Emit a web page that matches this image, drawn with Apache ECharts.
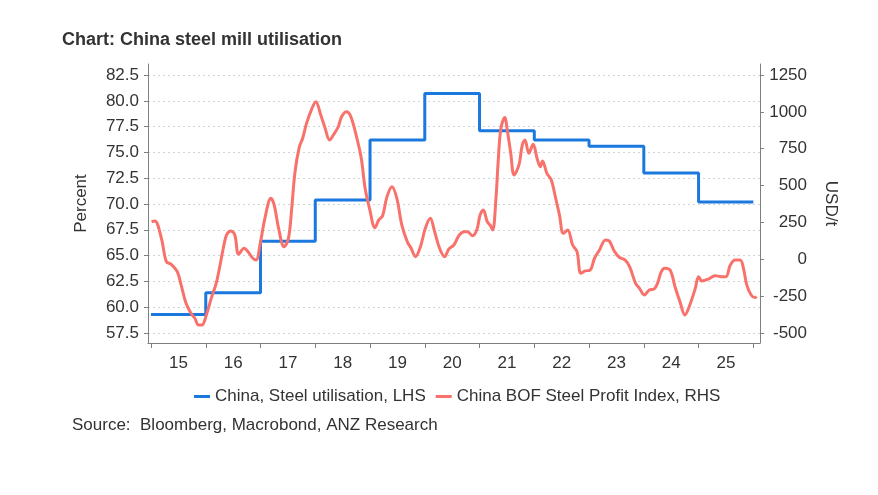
<!DOCTYPE html>
<html><head><meta charset="utf-8">
<script src="https://cdn.jsdelivr.net/npm/echarts@6/dist/echarts.min.js"></script>
<style>html,body{margin:0;padding:0;background:#fff}#c{width:878px;height:495px}</style>
</head><body><div id="c"></div>
<script>
// ---- Data ----
const utilYears = [2015, 2016, 2017, 2018, 2019, 2020, 2021, 2022, 2023, 2024, 2025];
const utilValues = [59.3, 61.4, 66.4, 70.4, 76.2, 80.7, 77.1, 76.2, 75.6, 73.0, 70.2];

const profitYears = [2015.01,2015.07,2015.19,2015.28,2015.37,2015.48,2015.55,2015.64,2015.73,2015.80,2015.87,2015.93,
2016.01,2016.10,2016.19,2016.25,2016.32,2016.38,2016.46,2016.53,2016.60,2016.70,2016.77,2016.86,2016.92,2016.99,
2017.08,2017.19,2017.25,2017.33,2017.43,2017.51,2017.57,2017.63,2017.71,2017.77,2017.84,2017.94,
2018.01,2018.10,2018.18,2018.26,2018.33,2018.42,2018.48,2018.57,2018.65,2018.76,2018.84,2018.91,2018.99,
2019.09,2019.16,2019.23,2019.31,2019.40,2019.49,2019.58,2019.68,2019.75,2019.83,2019.92,
2020.01,2020.10,2020.18,2020.27,2020.36,2020.44,2020.53,2020.63,2020.72,2020.78,2020.87,2020.95,
2021.01,2021.07,2021.14,2021.19,2021.24,2021.30,2021.34,2021.39,2021.46,2021.51,2021.57,2021.63,2021.72,2021.78,2021.83,2021.90,2021.98,
2022.05,2022.11,2022.15,2022.23,2022.31,2022.39,2022.46,2022.53,2022.61,2022.70,2022.78,2022.85,2022.93,
2023.02,2023.10,2023.19,2023.30,2023.37,2023.46,2023.55,2023.66,2023.74,2023.85,2023.92,
2024.01,2024.10,2024.19,2024.25,2024.32,2024.38,2024.48,2024.57,2024.66,2024.75,2024.84,2024.94,
2025.00,2025.06,2025.18,2025.30,2025.42,2025.50,2025.58,2025.67,2025.76,2025.82,2025.88,2025.96,2026.03,2026.06];
const profitValues = [255,260,142,-16,-34,-84,-174,-298,-366,-400,-446,-446,
-378,-265,-163,-61,75,165,192,165,34,75,52,7,-5,97,
278,414,368,210,85,142,346,594,764,821,922,1024,
1069,979,889,809,843,899,967,1001,967,821,685,482,346,
214,267,296,425,492,414,233,119,75,18,85,
210,278,187,75,18,70,97,165,187,187,160,199,
300,334,255,233,199,414,662,889,961,866,719,572,640,775,809,719,780,
685,628,667,583,538,414,300,176,199,97,52,-95,-79,
-73,7,63,131,124,56,14,-5,-50,-163,-197,
-242,-208,-201,-163,-84,-61,-73,-186,-288,-378,-310,-197,
-118,-147,-134,-111,-118,-118,-39,-5,-5,-61,-174,-242,-260,-253];

const leftTicks = [57.5, 60, 62.5, 65, 67.5, 70, 72.5, 75, 77.5, 80, 82.5];
const rightTicks = [-500, -250, 0, 250, 500, 750, 1000, 1250];
const yearLabels = ['15','16','17','18','19','20','21','22','23','24','25'];

// ---- Build series ----
const lastYear = utilYears[utilYears.length - 1] + 1;
const utilData = utilYears.map((y, i) => [y, utilValues[i]]);
utilData.push([lastYear, utilValues[utilValues.length - 1]]);
const profitData = profitYears.map((y, i) => [y, profitValues[i]]);
const yearTicks = utilYears.concat([lastYear]);
const labelPos = utilYears.map(y => y + 0.5);

const FONT = '"Liberation Sans", Arial, sans-serif';
const TXT = '#333333';
const AX = '#7f7f7f';

const chart = echarts.init(document.getElementById('c'), null, { renderer: 'canvas' });
chart.setOption({
  animation: false,
  backgroundColor: '#ffffff',
  textStyle: { fontFamily: FONT },
  title: {
    text: 'Chart: China steel mill utilisation',
    left: 57, top: 26,
    textStyle: { fontSize: 18, fontWeight: 'bold', color: TXT, fontFamily: FONT }
  },
  legend: {
    left: 189, top: 383,
    icon: 'rect', itemWidth: 16, itemHeight: 3, itemGap: 10,
    textStyle: { fontSize: 17, color: TXT, fontFamily: FONT },
    data: ['China, Steel utilisation, LHS', 'China BOF Steel Profit Index, RHS']
  },
  graphic: [{
    type: 'text', left: 72, top: 417,
    style: { text: 'Source:  Bloomberg, Macrobond, ANZ Research', fontSize: 17, fill: TXT, fontFamily: FONT }
  }],
  grid: { left: 148, right: 118, top: 64, bottom: 152 },
  xAxis: {
    type: 'value', min: 2014.945, max: 2026.122,
    splitLine: { show: false },
    axisLine: { show: true, onZero: false, lineStyle: { color: AX, width: 1 } },
    axisTick: { show: true, customValues: yearTicks, length: 5, lineStyle: { color: AX } },
    axisLabel: {
      customValues: labelPos, margin: 12, fontSize: 17, color: TXT, fontFamily: FONT,
      formatter: v => yearLabels[utilYears.indexOf(Math.floor(v))]
    }
  },
  yAxis: [{
    type: 'value', position: 'left', min: 56.53, max: 83.57,
    name: 'Percent', nameLocation: 'middle', nameGap: 58, nameRotate: 90,
    nameTextStyle: { fontSize: 17, color: TXT, fontFamily: FONT },
    axisLine: { show: true, onZero: false, lineStyle: { color: AX, width: 1 } },
    axisTick: { show: true, customValues: leftTicks, length: 4, lineStyle: { color: AX } },
    axisLabel: { customValues: leftTicks, margin: 9, fontSize: 17, color: TXT, fontFamily: FONT, formatter: v => v.toFixed(1) },
    splitLine: { show: true, lineStyle: { color: '#cbd5dc', type: [2, 3], width: 1 } }
  }, {
    type: 'value', position: 'right', min: -567.8, max: 1324.6,
    name: 'USD/t', nameLocation: 'middle', nameGap: 62, nameRotate: -90,
    nameTextStyle: { fontSize: 17, color: TXT, fontFamily: FONT },
    axisLine: { show: true, onZero: false, lineStyle: { color: AX, width: 1 } },
    axisTick: { show: true, customValues: rightTicks, length: 4, lineStyle: { color: AX } },
    axisLabel: { customValues: rightTicks, margin: 47, align: 'right', fontSize: 17, color: TXT, fontFamily: FONT, formatter: v => String(v) },
    splitLine: { show: false }
  }],
  series: [{
    name: 'China, Steel utilisation, LHS',
    type: 'line', step: 'end', yAxisIndex: 0,
    data: utilData, showSymbol: false, symbol: 'none',
    lineStyle: { color: '#1a78de', width: 3 }, itemStyle: { color: '#1a78de' }
  }, {
    name: 'China BOF Steel Profit Index, RHS',
    type: 'line', yAxisIndex: 1, smooth: 0.35,
    data: profitData, showSymbol: false, symbol: 'none',
    lineStyle: { color: '#f8716a', width: 3 }, itemStyle: { color: '#f8716a' }
  }]
});
</script></body></html>
